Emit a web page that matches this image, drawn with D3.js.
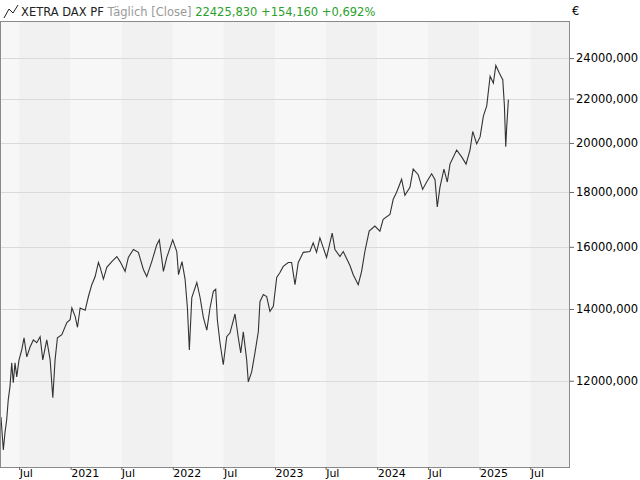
<!DOCTYPE html>
<html><head><meta charset="utf-8">
<script src="https://cdn.jsdelivr.net/npm/d3@7"></script>
<style>
body{margin:0;background:#fff;}
text{font-family:"DejaVu Sans",sans-serif;font-size:11.5px;}
</style></head>
<body><svg id="chart" width="640" height="480"></svg>
<script>
// decimal year of each close
const years = [2020.320,2020.343,2020.359,2020.376,2020.391,2020.408,2020.425,2020.440,2020.457,2020.474,
2020.496,2020.523,2020.545,2020.572,2020.604,2020.636,2020.669,2020.702,2020.728,2020.767,2020.800,2020.826,
2020.848,2020.871,2020.914,2020.963,2020.995,2021.012,2021.044,2021.067,2021.093,2021.142,2021.174,2021.207,
2021.240,2021.272,2021.289,2021.321,2021.354,2021.403,2021.452,2021.484,2021.533,2021.565,2021.614,2021.663,
2021.712,2021.745,2021.794,2021.843,2021.868,2021.908,2021.941,2021.999,2022.039,2022.056,2022.090,2022.120,
2022.143,2022.162,2022.186,2022.235,2022.267,2022.299,2022.333,2022.364,2022.397,2022.420,2022.436,2022.462,
2022.494,2022.528,2022.560,2022.609,2022.641,2022.665,2022.690,2022.723,2022.739,2022.772,2022.804,2022.837,
2022.853,2022.886,2022.919,2022.951,2022.984,2023.017,2023.049,2023.081,2023.130,2023.163,2023.196,2023.228,
2023.277,2023.342,2023.374,2023.407,2023.440,2023.505,2023.560,2023.587,2023.636,2023.668,2023.734,2023.766,
2023.815,2023.848,2023.880,2023.922,2023.978,2024.027,2024.059,2024.125,2024.157,2024.190,2024.239,2024.271,
2024.320,2024.352,2024.401,2024.444,2024.483,2024.532,2024.565,2024.587,2024.613,2024.652,2024.685,2024.711,
2024.776,2024.825,2024.868,2024.907,2024.933,2024.972,2025.005,2025.037,2025.070,2025.103,2025.135,2025.159,
2025.194,2025.227,2025.243,2025.256,2025.266,2025.282];
const closes = [11100,10340,10730,11040,11520,11850,12470,11950,12470,12100,
12550,12820,13160,12630,12900,13100,13020,13190,12550,13100,12550,11570,
12550,13160,13250,13600,13680,14030,13780,13460,14030,13960,14380,14750,
15010,15470,15310,14930,15310,15500,15670,15500,15180,15640,15910,15810,
15240,15010,15500,16070,16240,15180,15640,16240,15840,15070,15500,14930,
14030,12820,14350,14820,14350,13750,13380,14030,14540,14610,13680,13020,
12420,13190,13300,13850,13160,12740,13330,12550,11970,12230,12740,13330,
14220,14440,14380,13930,14080,14980,15140,15340,15470,15470,14750,15470,
15810,15840,16140,15810,16310,15640,16480,15910,15670,15840,15370,15070,
14750,15180,15840,16550,16730,16550,16970,17150,17720,17990,18500,17870,
18180,18910,18680,18100,18390,18720,18480,17430,18180,18910,18390,19110,
19700,19410,19110,19700,20500,19960,20260,21190,21660,23080,22740,23620,
23230,22910,21660,19840,20740,21950];
const yTicks = [12000,14000,16000,18000,20000,22000,24000];
const header = {name:"XETRA DAX PF", mode:"Täglich [Close]", last:"22425,830", chg:"+154,160", pct:"+0,692%"};

function toDate(y){
  const yr = Math.floor(y), a = Date.UTC(yr,0,1), b = Date.UTC(yr+1,0,1);
  return new Date(a + (y-yr)*(b-a));
}
const data = years.map((y,i) => ({date: toDate(y), value: closes[i]}));

const L = 0, R = 570, T = 21, B = 467;
const svg = d3.select('#chart');
const x = d3.scaleUtc().domain([toDate(2020.3105), toDate(2025.885)]).range([L, R]);
const y = d3.scaleLog().domain([9970, 25990]).range([B, T]);

// half-year bands
const starts = d3.utcMonth.every(6).range(new Date(Date.UTC(2020,0,1)), new Date(Date.UTC(2026,1,1)));
svg.append('g').selectAll('rect').data(starts).enter().append('rect')
  .attr('x', d => Math.max(L, x(d)))
  .attr('width', d => Math.max(0, Math.min(R, x(d3.utcMonth.offset(d,6))) - Math.max(L, x(d))))
  .attr('y', T).attr('height', B - T)
  .attr('fill', d => d.getUTCMonth() === 6 ? '#f1f1f1' : '#f7f7f7');

// grid
svg.append('g').selectAll('line').data(yTicks).enter().append('line')
  .attr('x1', L).attr('x2', R).attr('y1', d => Math.round(y(d)) + 0.5).attr('y2', d => Math.round(y(d)) + 0.5)
  .attr('stroke', '#dadada');

// price line
svg.append('path').datum(data)
  .attr('d', d3.line().x(d => x(d.date)).y(d => y(d.value)))
  .attr('fill', 'none').attr('stroke', '#333').attr('stroke-width', 1.1);

// frame
svg.append('rect').attr('x', L + 0.5).attr('y', T + 0.5).attr('width', R - L - 1).attr('height', B - T)
  .attr('fill', 'none').attr('stroke', '#8a8a8a');

// right axis
const ya = svg.append('g').attr('transform', `translate(${R},0)`)
  .call(d3.axisRight(y).tickValues(yTicks).tickSize(4).tickFormat(d => d + ',000'));
ya.select('.domain').remove();
ya.selectAll('text').attr('x', 6).attr('fill', '#000').style('font-size', '11.5px').style('font-family', '"DejaVu Sans",sans-serif');
ya.selectAll('line').attr('stroke', '#666');
svg.append('text').attr('x', 572).attr('y', 15).text('€');

// bottom axis
const xt = d3.utcMonth.every(6).range(toDate(2020.4), toDate(2025.885));
const xa = svg.append('g').attr('transform', `translate(0,${B})`)
  .call(d3.axisBottom(x).tickValues(xt).tickSize(3)
    .tickFormat(d => d.getUTCMonth() === 0 ? d.getUTCFullYear() : 'Jul'));
xa.select('.domain').remove();
xa.selectAll('line').attr('stroke', '#666');
xa.selectAll('text').attr('fill', '#000').attr('y', 2).attr('text-anchor', 'start').attr('dx', 0)
  .style('font-size', '11px').style('font-family', '"DejaVu Sans",sans-serif');

// header
svg.append('path').attr('d', 'M4,18 L9,9 L13,13 L18,5').attr('fill', 'none').attr('stroke', '#222');
const h = svg.append('text').attr('x', 21).attr('y', 16);
h.append('tspan').text(header.name).attr('fill', '#222');
h.append('tspan').text(' ' + header.mode).attr('fill', '#999');
h.append('tspan').text(' ' + header.last).attr('fill', '#2aa12a');
h.append('tspan').text(' ' + header.chg).attr('fill', '#2aa12a');
h.append('tspan').text(' ' + header.pct).attr('fill', '#2aa12a');
</script></body></html>
